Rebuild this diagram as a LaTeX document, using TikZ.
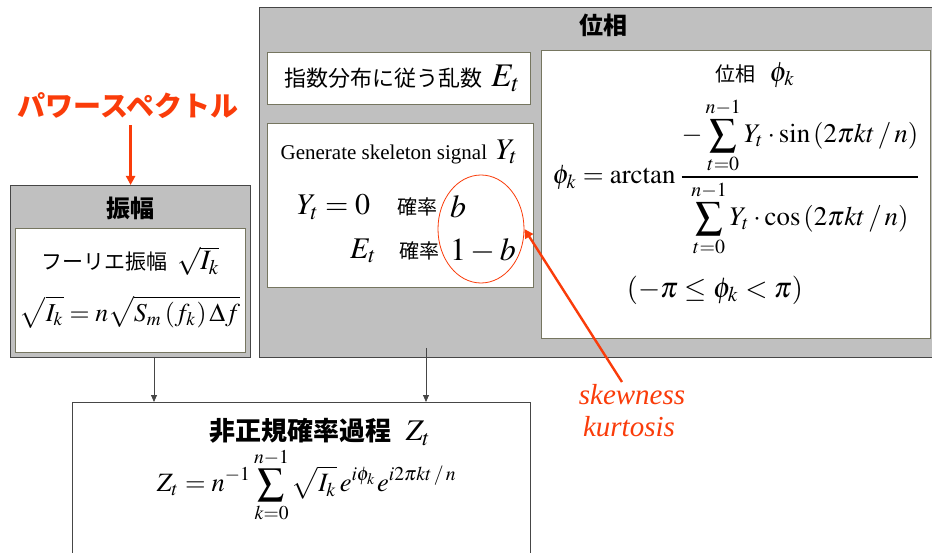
\documentclass[tikz,border=0pt]{standalone}
\usepackage{mathptmx}
\usepackage{graphicx}
\usepackage[no-math]{fontspec}
\setmainfont{Liberation Serif}
\newfontfamily\tms{Liberation Serif}
\newfontfamily\jp{Noto Sans CJK JP}
\usetikzlibrary{arrows.meta,shapes.geometric}
\definecolor{boxgray}{RGB}{192,192,192}
\definecolor{outline}{RGB}{70,70,70}
\definecolor{innerline}{RGB}{118,118,96}
\definecolor{accent}{RGB}{250,60,10}
\newcommand\fitw[2]{\resizebox{#1}{!}{#2}}
\newcommand\fs[1]{\fontsize{#1}{#1}\selectfont}
\tikzset{
  graybox/.style={draw=outline, line width=1.2pt, fill=boxgray, anchor=north west, inner sep=0pt},
  whitebox/.style={draw=innerline, line width=1pt, fill=white, anchor=north west, inner sep=0pt},
  plainbox/.style={draw=outline, line width=1pt, fill=white, anchor=north west, inner sep=0pt},
  lbl/.style={inner sep=0pt, outer sep=0pt},
  flow/.style={draw=outline, line width=0.8pt, -{Triangle[length=7pt,width=6pt]}},
  redarrow/.style={draw=accent, line width=2.4pt, -{Triangle[length=9pt,width=9pt]}},
}
\begin{document}
\begin{tikzpicture}[x=1pt,y=-1pt]
\useasboundingbox (0,0) rectangle (932,553);
\clip (0,0) rectangle (932,553);
% amplitude block
\node[graybox, minimum width=240pt, minimum height=172pt] (ampout) at (10,185) {};
\node[whitebox, minimum width=230pt, minimum height=124pt] (ampin) at (15,228) {};
\node[lbl] (amptitle) at (130,208) {\jp\bfseries\fs{24}振幅};
\node[lbl] (ampname) at (130,261) {\jp\fs{21}フーリエ振幅\hspace{10pt}\fs{28}$\sqrt{I_k}$};
\node[lbl] (ampeq) at (130,312) {\fitw{220pt}{$\displaystyle\sqrt{I_k}=n\sqrt{S_m\left(f_k\right)\Delta f}$}};
% power spectrum
\node[lbl, text=accent] (ps) at (128,106) {\jp\bfseries\fs{28}パワースペクトル};
\draw[redarrow] (ps.south -| ampout.north) ++(0,6) -- (ampout.north);
% phase block
\node[graybox, minimum width=700pt, minimum height=350pt] (phout) at (259,7) {};
\node[lbl] (phtitle) at (603,25) {\jp\bfseries\fs{24}位相};
\node[whitebox, minimum width=263pt, minimum height=52pt] (ebox) at (267,52) {};
\node[lbl] (etext) at (402,78) {\jp\fs{22}指数分布に従う乱数\hspace{9pt}\fs{33}$E_t$};
\node[whitebox, minimum width=266pt, minimum height=164pt] (ybox) at (267,123) {};
\node[lbl] (ytitle) at (399,152) {\tms\fs{21}Generate skeleton signal\hspace{9pt}\fs{30}$Y_t$};
\node[lbl, anchor=east] (yzero) at (370,207) {\fs{30}$Y_t=0$};
\node[lbl, anchor=east] (yet) at (376,251) {\fs{30}$E_t$};
\node[lbl] (prob1) at (417,207) {\jp\fs{20}確率};
\node[lbl] (prob2) at (419,251) {\jp\fs{20}確率};
\node[lbl, anchor=west] (pb) at (450,207) {\fs{32}$b$};
\node[lbl, anchor=west] (pb2) at (450,251) {\fs{32}$1-b$};
\node[draw=accent, line width=0.8pt, ellipse, minimum width=86pt, minimum height=108pt, inner sep=0pt] (circ) at (481,229) {};
% phase formula
\node[whitebox, minimum width=389pt, minimum height=288pt] (phbox) at (541,50) {};
\node[lbl] (phname) at (755,75) {\jp\fs{20}位相\hspace{14pt}\fs{28}$\phi_k$};
\node[lbl] (pheq) at (737,177) {\fitw{369pt}{$\displaystyle\phi_k=\arctan\frac{\displaystyle-\sum_{t=0}^{n-1}Y_t\cdot\sin\left(2\pi kt\,/\,n\right)}{\displaystyle\sum_{t=0}^{n-1}Y_t\cdot\cos\left(2\pi kt\,/\,n\right)}$}};
\node[lbl] (phrange) at (715,290) {\fitw{176pt}{$\left(-\pi\le\phi_k<\pi\right)$}};
% output block
\node[plainbox, minimum width=458pt, minimum height=170pt] (zbox) at (72,402) {};
\node[lbl] (ztitle) at (320,432) {\jp\bfseries\fs{26}非正規確率過程\hspace{14pt}\fs{30}\mdseries$Z_t$};
\node[lbl] (zeq) at (307,485) {\fitw{300pt}{$\displaystyle Z_t=n^{-1}\sum_{k=0}^{n-1}\sqrt{I_k}\,e^{i\phi_k}e^{i2\pi kt\,/\,n}$}};
% flow arrows
\coordinate (phfoot) at (426,348);
\draw[flow] (154,357) -- (154,402);
\draw[flow] (phfoot) -- (phfoot |- zbox.north);
% annotation
\node[lbl, text=accent] (skew) at (632,395) {\tms\itshape\fs{29}skewness};
\node[lbl, text=accent] (kurt) at (629,427) {\tms\itshape\fs{29}kurtosis};
\draw[redarrow] (622,382) -- (circ.east);
\end{tikzpicture}
\end{document}
